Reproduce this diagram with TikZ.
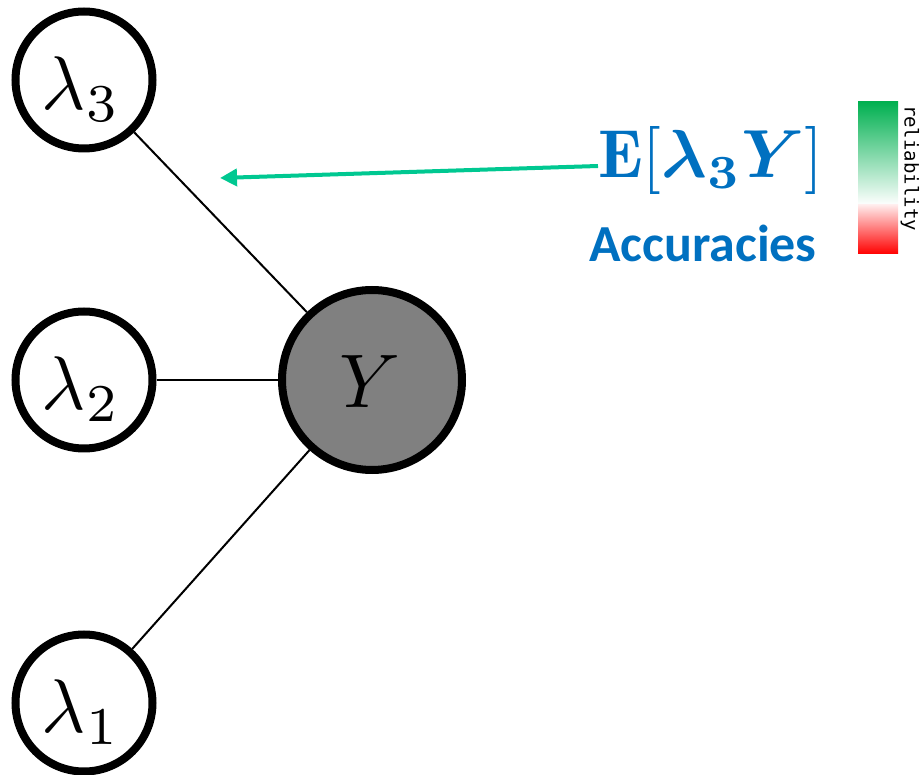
\documentclass[tikz,border=0pt]{standalone}
\usepackage{amsmath,bm}
\usepackage{fontspec}
\newfontfamily\calib{Carlito}
\newfontfamily\monof{DejaVu Sans Mono}
\usetikzlibrary{arrows.meta}
\definecolor{accblue}{HTML}{0070C0}
\definecolor{arrowteal}{RGB}{0,200,145}
\definecolor{relgreen}{HTML}{00B050}
\definecolor{relred}{HTML}{FF0000}
\definecolor{ygray}{HTML}{808080}
\tikzset{
  varnode/.style={circle,draw=black,line width=8pt,minimum size=137pt,inner sep=0pt,fill=white},
  latnode/.style={circle,draw=black,line width=8pt,minimum size=180pt,inner sep=0pt,fill=ygray},
  edge/.style={line width=2pt,draw=black},
  lab/.style={scale=7.6}
}
\begin{document}
\begin{tikzpicture}[x=1pt,y=-1pt]
\useasboundingbox (0,0) rectangle (922,775);
\node[varnode] (l3) at (84,80) {};
\node[lab] at (81,89) {$\lambda_3$};
\node[varnode] (l2) at (84,380) {};
\node[lab] at (81,389) {$\lambda_2$};
\node[varnode] (l1) at (84,703) {};
\node[lab] at (81,712) {$\lambda_1$};
\node[latnode] (y) at (372,380) {};
\node[lab] at (370,382) {$Y$};
\draw[edge] (l3) -- (y);
\draw[edge] (l2) -- (y);
\draw[edge] (l1) -- (y);
\coordinate (as) at (598,166);
\coordinate (ae) at (220,178);
\draw[arrowteal,line width=4pt,-{Triangle[length=17pt,width=17pt]}] (as) -- (ae);
\node[accblue,scale=6.8] (eq) at (711,161) {$\mathbf{E}[\bm{\lambda_3 Y}]$};
\node[accblue,font=\calib\bfseries\fontsize{52}{52}\selectfont] (acc) at (703,243) {Accuracies};
\shade[top color=relgreen,bottom color=white] (858,102) rectangle (898,205);
\shade[top color=red!8,bottom color=relred] (858,205) rectangle (898,254);
\node[rotate=-90,font=\monof\fontsize{19}{19}\selectfont] (rel) at (910,168) {reliability};
\end{tikzpicture}
\end{document}
